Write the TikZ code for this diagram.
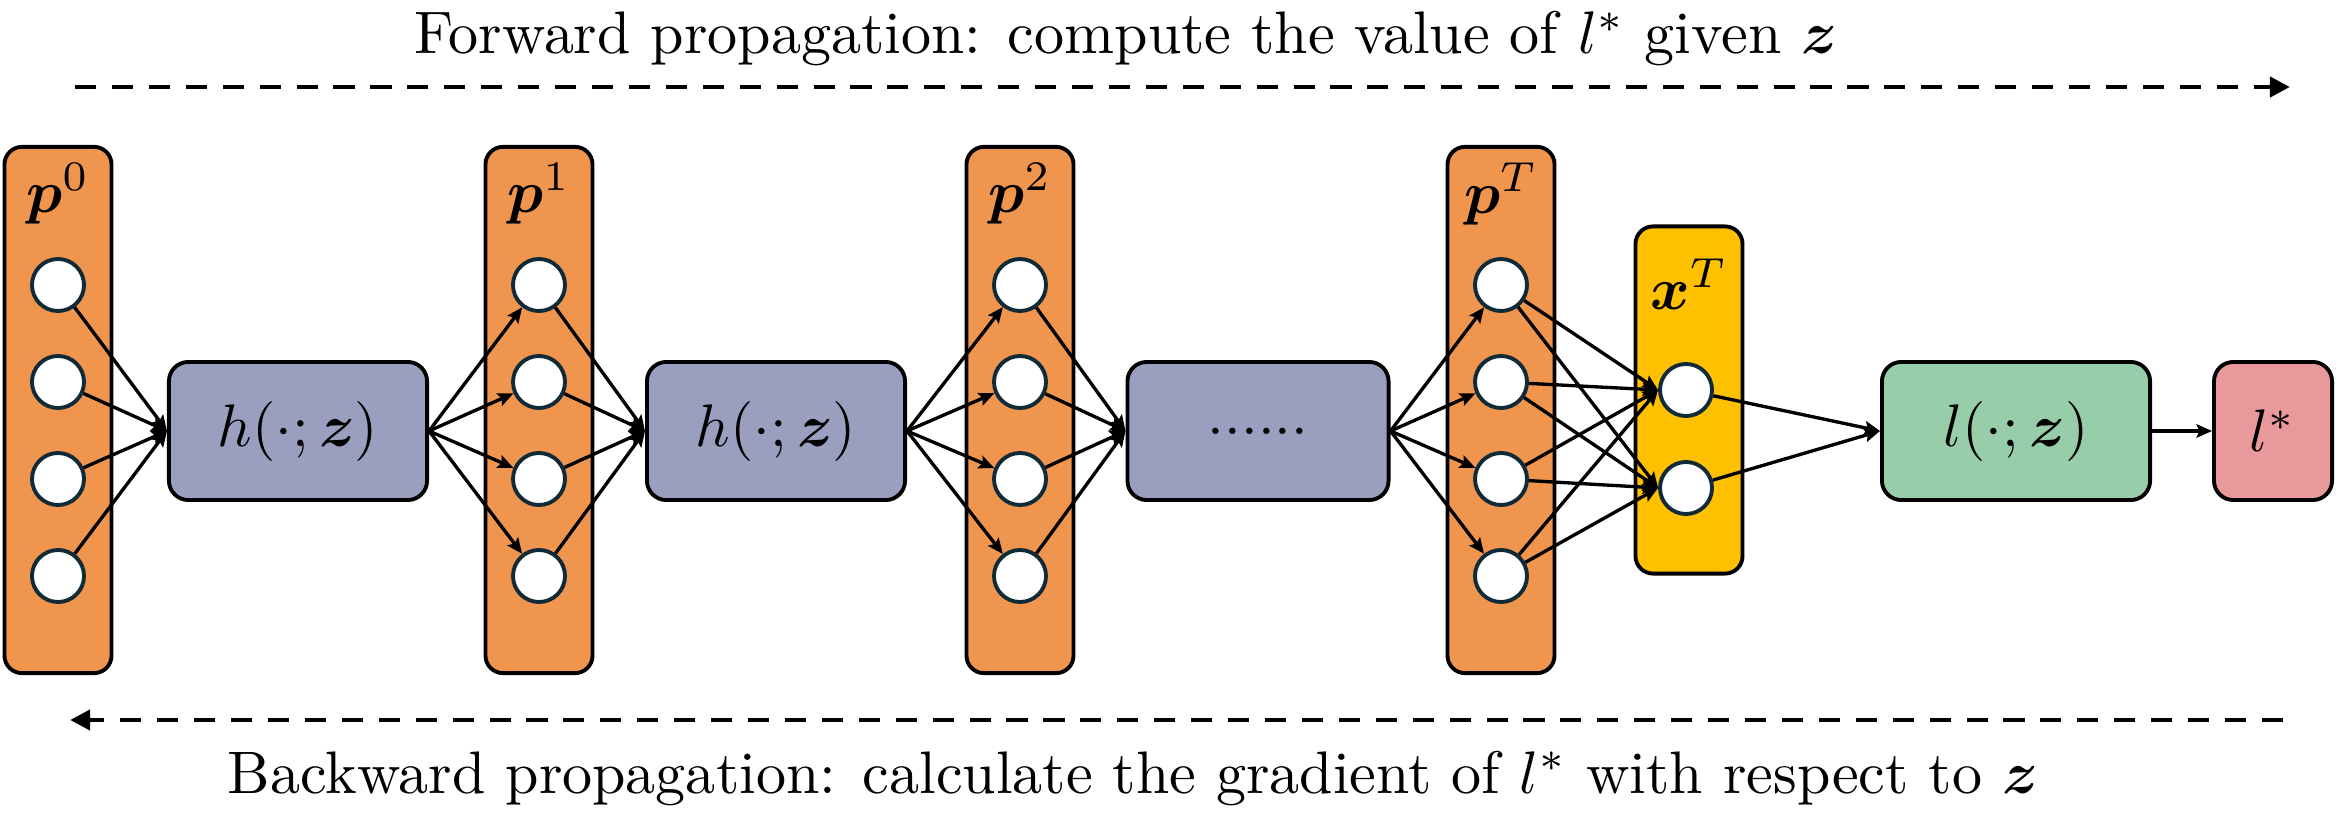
\documentclass[tikz,border=0pt]{standalone}
\usepackage{amsmath,amssymb,bm}
\usetikzlibrary{arrows.meta,positioning,fit,calc}
\definecolor{layerorange}{RGB}{240,149,78}
\definecolor{opblue}{RGB}{154,159,192}
\definecolor{stateyellow}{RGB}{255,192,0}
\definecolor{lossgreen}{RGB}{152,205,170}
\definecolor{outpink}{RGB}{233,152,155}
\definecolor{unitedge}{RGB}{16,42,56}

\begin{document}
\begin{tikzpicture}[x=0.01cm,y=0.01cm,font=\fontsize{10}{12}\selectfont,
 lab/.style={scale=1.707,inner sep=0.5pt},
 layer/.style={draw,line width=1.1pt,rounded corners=5pt,minimum width=1.07cm},
 unit/.style={circle,draw=unitedge,line width=1.1pt,fill=white,minimum size=0.52cm,inner sep=0pt},
 opbox/.style={draw,line width=1.1pt,rounded corners=5.5pt,minimum height=1.38cm},
 link/.style={-{Stealth[length=4.4pt,width=3.8pt,inset=0.8pt]},line width=0.95pt},
 flow/.style={-{Triangle[length=5.7pt,width=5.6pt]},line width=1.4pt,dash pattern=on 6pt off 4.5pt}]
\useasboundingbox (0,0) rectangle (2343,812);
% layers p^0 ... p^T
\foreach \l/\x in {0/58,1/539,2/1020,T/1501} {
 \node[layer,fill=layerorange,minimum height=5.26cm] (p\l) at (\x,402) {};
 \node[lab] (p\l-lab) at (\x,618) {$\boldsymbol{p}^{\l}$};
 \foreach \i/\y in {1/527,2/430,3/333,4/236}
  \node[unit] (p\l-\i) at (\x,\y) {};
}
\node[layer,fill=stateyellow,minimum height=3.47cm] (xT) at (1689,412) {};
\node[lab] (xT-lab) at (1689,528) {$\boldsymbol{x}^T$};
\node[unit] (xT-1) at (1686,422) {};
\node[unit] (xT-2) at (1686,324) {};
% operators
\node[opbox,fill=opblue,minimum width=2.58cm] (h1) at (298,381) {};
\node[lab] (h1-lab) at (h1) {$h(\cdot;\boldsymbol{z})$};
\node[opbox,fill=opblue,minimum width=2.58cm] (h2) at (776,381) {};
\node[lab] (h2-lab) at (h2) {$h(\cdot;\boldsymbol{z})$};
\node[opbox,fill=opblue,minimum width=2.61cm] (hd) at (1258,381) {};
\node[lab] (hd-lab) at (hd) {......};
\node[opbox,fill=lossgreen,minimum width=2.68cm] (loss) at (2016,381) {};
\node[lab] (loss-lab) at (loss) {$l(\cdot;\boldsymbol{z})$};
\node[opbox,fill=outpink,minimum width=1.18cm] (lstar) at (2273,381) {};
\node[lab] (lstar-lab) at (lstar) {$l^*$};
\foreach \i in {1,...,4} {
 \draw[link] (p0-\i) -- (h1.west);
 \draw[link] (h1.east) -- (p1-\i);
 \draw[link] (p1-\i) -- (h2.west);
 \draw[link] (h2.east) -- (p2-\i);
 \draw[link] (p2-\i) -- (hd.west);
 \draw[link] (hd.east) -- (pT-\i);
 \foreach \j in {1,2}
  \draw[link] (pT-\i) -- (xT-\j.west);
}
\foreach \j in {1,2}
 \draw[link] (xT-\j) -- (loss.west);
\draw[link] (loss) -- (lstar);
% propagation directions
\node[lab,anchor=base] (fwd) at (1126,758) {Forward propagation: compute the value of $l^*$ given $\boldsymbol{z}$};
\coordinate (fwd-a) at (75,725);
\coordinate (fwd-b) at (2290,725);
\draw[flow] (fwd-a) -- (fwd-b);
\coordinate (bwd-a) at (2283,92);
\coordinate (bwd-b) at (70,92);
\draw[flow] (bwd-a) -- (bwd-b);
\node[lab,anchor=base] (bwd) at (1133,19) {Backward propagation: calculate the gradient of $l^*$ with respect to $\boldsymbol{z}$};
\end{tikzpicture}
\end{document}
